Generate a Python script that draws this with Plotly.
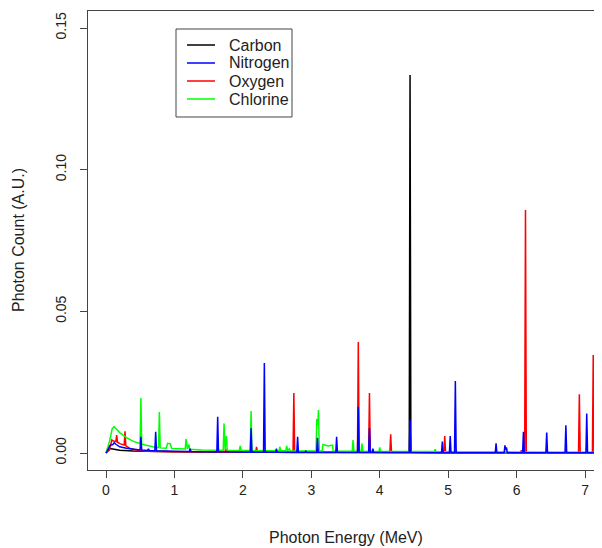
import plotly.graph_objects as go

# ---------------- data ----------------
carbon_E = [0.00, 0.05, 0.10, 0.20, 0.40, 0.70, 1.00, 2.00, 3.00, 4.00, 4.431, 4.443, 4.455, 5.00, 6.00, 7.30]
carbon_y = [0.0000, 0.0016, 0.0014, 0.0010, 0.0007, 0.0005, 0.0004, 0.0003, 0.0002, 0.0002, 0.0002, 0.1334, 0.0002, 0.0001, 0.0001, 0.0001]

nitrogen_E = [0.00, 0.06, 0.10, 0.12, 0.15, 0.20, 0.30, 0.40,
              0.498, 0.510, 0.522, 0.608, 0.620, 0.632, 0.714, 0.726, 0.738, 1.000,
              1.218, 1.230, 1.242, 1.620, 1.632, 1.644, 2.108, 2.120, 2.132,
              2.302, 2.314, 2.326, 2.478, 2.490, 2.502, 2.788, 2.800, 2.812,
              2.908, 2.920, 2.932, 3.078, 3.090, 3.102, 3.358, 3.370, 3.382,
              3.675, 3.687, 3.699, 3.838, 3.850, 3.862, 3.888, 3.900, 3.912,
              4.431, 4.443, 4.455, 4.903, 4.915, 4.927, 5.018, 5.030, 5.042,
              5.093, 5.105, 5.117, 5.688, 5.700, 5.712, 5.818, 5.830, 5.842, 5.852, 5.864,
              6.088, 6.100, 6.112, 6.428, 6.440, 6.452, 6.708, 6.720, 6.732,
              7.013, 7.025, 7.037, 7.300]
nitrogen_y = [0.0000, 0.0027, 0.0030, 0.0036, 0.0030, 0.0022, 0.0017, 0.0013,
              0.0011, 0.0057, 0.0011, 0.0009, 0.0015, 0.0009, 0.0008, 0.0075, 0.0008, 0.0006,
              0.0005, 0.0015, 0.0005, 0.0004, 0.0128, 0.0004, 0.0003, 0.0087, 0.0003,
              0.0003, 0.0318, 0.0003, 0.0003, 0.0015, 0.0003, 0.0002, 0.0057, 0.0002,
              0.0002, 0.0008, 0.0002, 0.0002, 0.0054, 0.0002, 0.0002, 0.0057, 0.0002,
              0.0002, 0.0163, 0.0002, 0.0002, 0.0087, 0.0002, 0.0002, 0.0015, 0.0002,
              0.0002, 0.0116, 0.0002, 0.0001, 0.0040, 0.0001, 0.0001, 0.0060, 0.0001,
              0.0001, 0.0254, 0.0001, 0.0001, 0.0034, 0.0001, 0.0001, 0.0027, 0.0010, 0.0020, 0.0001,
              0.0001, 0.0075, 0.0001, 0.0001, 0.0072, 0.0001, 0.0001, 0.0098, 0.0001,
              0.0001, 0.0139, 0.0001, 0.0001]

oxygen_E = [0.00, 0.05, 0.085, 0.110, 0.144, 0.156, 0.168, 0.210, 0.266, 0.278, 0.290,
            0.35, 0.45, 0.60, 1.00, 1.738, 1.750, 1.762, 2.188, 2.200, 2.212,
            2.733, 2.745, 2.757, 3.675, 3.687, 3.699, 3.838, 3.850, 3.862,
            4.148, 4.160, 4.172, 4.938, 4.950, 4.962, 6.058, 6.070, 6.082,
            6.118, 6.130, 6.142, 6.905, 6.917, 6.929, 7.108, 7.120, 7.132, 7.300]
oxygen_y = [0.0000, 0.0010, 0.0046, 0.0042, 0.0040, 0.0063, 0.0038, 0.0032, 0.0028, 0.0077, 0.0025,
            0.0016, 0.0010, 0.0006, 0.0004, 0.0003, 0.0015, 0.0003, 0.0003, 0.0022, 0.0003,
            0.0003, 0.0212, 0.0003, 0.0003, 0.0392, 0.0003, 0.0003, 0.0212, 0.0003,
            0.0002, 0.0066, 0.0002, 0.0002, 0.0060, 0.0002, 0.0002, 0.0010, 0.0002,
            0.0002, 0.0858, 0.0002, 0.0002, 0.0207, 0.0002, 0.0002, 0.0346, 0.0002, 0.0002]

chlorine_E = [0.00, 0.05, 0.09, 0.117, 0.15, 0.20, 0.30, 0.40, 0.498, 0.510, 0.522,
              0.60, 0.70, 0.768, 0.780, 0.792, 0.88, 0.90, 0.94, 0.96, 1.10,
              1.158, 1.170, 1.190, 1.210, 1.225, 1.40, 1.60, 1.713, 1.725, 1.740, 1.760, 1.772,
              1.950, 1.960, 1.975, 2.108, 2.120, 2.132, 2.40, 2.530, 2.540, 2.552,
              2.628, 2.640, 2.655, 2.680, 2.692, 3.00, 3.070, 3.080, 3.095, 3.105, 3.117,
              3.160, 3.170, 3.250, 3.310, 3.320, 3.598, 3.610, 3.622, 3.728, 3.740, 3.752,
              3.988, 4.000, 4.012, 4.800, 4.810, 4.822, 5.108, 5.120, 5.132, 6.00, 7.30]
chlorine_y = [0.0000, 0.0040, 0.0085, 0.0093, 0.0085, 0.0072, 0.0054, 0.0041, 0.0033, 0.0194, 0.0031,
              0.0026, 0.0021, 0.0019, 0.0145, 0.0018, 0.0017, 0.0034, 0.0032, 0.0016, 0.0014,
              0.0014, 0.0049, 0.0014, 0.0030, 0.0013, 0.0011, 0.0010, 0.0010, 0.0104, 0.0012, 0.0060, 0.0010,
              0.0009, 0.0025, 0.0009, 0.0009, 0.0148, 0.0008, 0.0008, 0.0008, 0.0022, 0.0008,
              0.0008, 0.0025, 0.0008, 0.0015, 0.0008, 0.0007, 0.0007, 0.0120, 0.0100, 0.0152, 0.0007,
              0.0007, 0.0030, 0.0025, 0.0028, 0.0007, 0.0006, 0.0046, 0.0006, 0.0006, 0.0033, 0.0006,
              0.0005, 0.0020, 0.0005, 0.0005, 0.0013, 0.0005, 0.0004, 0.0008, 0.0004, 0.0003, 0.0002]

x_ticks = [0, 1, 2, 3, 4, 5, 6, 7]
y_ticks = [0.0, 0.05, 0.10, 0.15]
y_ticklabels = ["0.00", "0.05", "0.10", "0.15"]
x_title = "Photon Energy (MeV)"
y_title = "Photon Count (A.U.)"
legend_names = ["Carbon", "Nitrogen", "Oxygen", "Chlorine"]
legend_colors = ["#000000", "#0000FF", "#FF0000", "#00FF00"]

# ---------------- figure ----------------
FONT = "Liberation Sans, Arial, sans-serif"
AXC = "#444444"
TXT = "#222222"

# drawing order (nitrogen on top)
series = [
    (carbon_E, carbon_y, "#000000"),
    (oxygen_E, oxygen_y, "#FF0000"),
    (chlorine_E, chlorine_y, "#00FF00"),
    (nitrogen_E, nitrogen_y, "#0000FF"),
]

fig = go.Figure()
for xs, ys, col in series:
    fig.add_trace(go.Scatter(x=xs, y=ys, mode="lines",
                             line=dict(color=col, width=1.5), showlegend=False))

# plot area in window pixels: x 88..602, y 11..470 (page has an 8px body offset)
PW, PH = 514.0, 459.0
def px(X):
    return (X - 88) / PW
def py(Y):
    return (470 - Y) / PH

shapes = [dict(type="rect", xref="paper", yref="paper",
               x0=px(176), x1=px(292), y0=py(117), y1=py(29),
               line=dict(color=AXC, width=1), fillcolor="white", layer="above")]
annotations = []
for i, (nm, col) in enumerate(zip(legend_names, legend_colors)):
    Y = 45 + 18 * i
    shapes.append(dict(type="line", xref="paper", yref="paper",
                       x0=px(187), x1=px(215), y0=py(Y), y1=py(Y),
                       line=dict(color=col, width=1.5), layer="above"))
    annotations.append(dict(text=nm, xref="paper", yref="paper", x=px(227), y=py(Y),
                            xanchor="left", yanchor="middle", showarrow=False,
                            font=dict(size=16, color=TXT)))

annotations += [
    dict(text=x_title, xref="paper", yref="paper", x=px(346), y=py(537),
         xanchor="center", yanchor="middle", showarrow=False,
         font=dict(size=16, color=TXT)),
    dict(text=y_title, xref="paper", yref="paper", x=px(18), y=py(240),
         xanchor="center", yanchor="middle", showarrow=False, textangle=-90,
         font=dict(size=16, color=TXT)),
]

fig.update_layout(
    width=602, height=548,
    margin=dict(l=80, r=8, t=3, b=86),
    paper_bgcolor="white", plot_bgcolor="white",
    font=dict(family=FONT, size=14, color=TXT),
    showlegend=False,
    xaxis=dict(range=[-0.263, 7.248], tickvals=x_ticks,
               ticks="outside", ticklen=7, tickcolor=AXC,
               showline=True, linecolor=AXC, linewidth=1, mirror=True,
               showgrid=False, zeroline=False, automargin=False,
               tickfont=dict(size=14)),
    yaxis=dict(range=[-0.006, 0.156], tickvals=y_ticks, ticktext=y_ticklabels,
               tickangle=-90, ticklabelstandoff=8,
               ticks="outside", ticklen=7, tickcolor=AXC,
               showline=True, linecolor=AXC, linewidth=1,
               showgrid=False, zeroline=False, automargin=False,
               tickfont=dict(size=14)),
    shapes=shapes,
    annotations=annotations,
)

fig.write_html("out.html")
